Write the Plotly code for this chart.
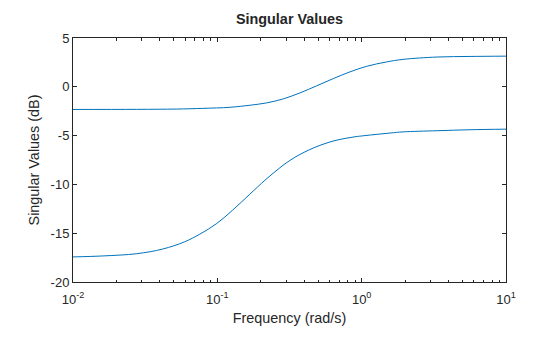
import plotly.graph_objects as go

# Frequencies (rad/s) and singular values (dB)
freq_upper = [0.01, 0.02765, 0.0524, 0.0793, 0.1221, 0.168, 0.2194, 0.2860, 0.3733,
              0.4875, 0.6355, 0.8298, 1.083, 1.491, 1.936, 3.33, 5.64, 10.0]
sv_upper = [-2.32, -2.31, -2.28, -2.21, -2.10, -1.89, -1.65, -1.24, -0.63,
            0.10, 0.84, 1.53, 2.10, 2.55, 2.81, 3.05, 3.11, 3.14]

freq_lower = [0.01, 0.01607, 0.02765, 0.0419, 0.0590, 0.0756, 0.0992, 0.128, 0.168,
              0.2135, 0.2505, 0.2938, 0.3446, 0.4044, 0.4745, 0.5566, 0.6528, 0.7658,
              0.8985, 1.054, 1.571, 1.936, 3.33, 5.64, 10.0]
sv_lower = [-17.43, -17.33, -17.1, -16.62, -15.9, -15.1, -14.0, -12.62, -11.0,
            -9.58, -8.71, -7.9, -7.22, -6.67, -6.2, -5.82, -5.51, -5.29,
            -5.12, -5.0, -4.74, -4.62, -4.5, -4.4, -4.34]

x_tickvals = [0.01, 0.1, 1, 10]
x_ticktext = ["10<sup>-2</sup>", "10<sup>-1</sup>", "10<sup>0</sup>", "10<sup>1</sup>"]
x_minor = [m * d for d in (0.01, 0.1, 1) for m in range(2, 10)]
y_tickvals = [-20, -15, -10, -5, 0, 5]
y_ticktext = ["-20", "-15", "-10", "-5", "0", "5"]

line_color = "#0072BD"
axis_color = "#262626"
font_family = "Liberation Sans, Arial, Helvetica, sans-serif"

fig = go.Figure()
for f, v in ((freq_upper, sv_upper), (freq_lower, sv_lower)):
    fig.add_trace(go.Scatter(x=f, y=v, mode="lines",
                             line=dict(color=line_color, width=1, shape="spline", smoothing=1.0),
                             showlegend=False, hoverinfo="skip"))

fig.update_layout(
    width=560, height=337,
    margin=dict(l=73, r=54, t=38, b=55),
    paper_bgcolor="white", plot_bgcolor="white",
    font=dict(family=font_family, color=axis_color, size=13),
    title=dict(text="<b>Singular Values</b>", x=(73 + 506) / 2 / 560, xanchor="center",
               y=1 - 19 / 337, yanchor="middle",
               font=dict(size=14.4, color=axis_color, family=font_family)),
)
fig.update_xaxes(
    type="log", range=[-2, 1],
    tickvals=x_tickvals, ticktext=x_ticktext,
    ticks="inside", ticklen=4, tickwidth=1, tickcolor=axis_color,
    ticklabelstandoff=5,
    minor=dict(tickvals=x_minor, ticks="inside", ticklen=2.5, tickwidth=1, tickcolor=axis_color, showgrid=False),
    showline=True, linecolor=axis_color, linewidth=1, mirror="ticks",
    showgrid=False, zeroline=False,
    tickfont=dict(size=13, color=axis_color),
    title=dict(text="Frequency (rad/s)", font=dict(size=14.4, color=axis_color), standoff=7),
)
fig.update_yaxes(
    range=[-20, 5],
    tickvals=y_tickvals, ticktext=y_ticktext,
    ticks="inside", ticklen=4, tickwidth=1, tickcolor=axis_color,
    showline=True, linecolor=axis_color, linewidth=1, mirror="ticks",
    showgrid=False, zeroline=False,
    tickfont=dict(size=13, color=axis_color),
    title=dict(text="Singular Values (dB)", font=dict(size=14.4, color=axis_color), standoff=7),
)

fig.write_html("out.html")
